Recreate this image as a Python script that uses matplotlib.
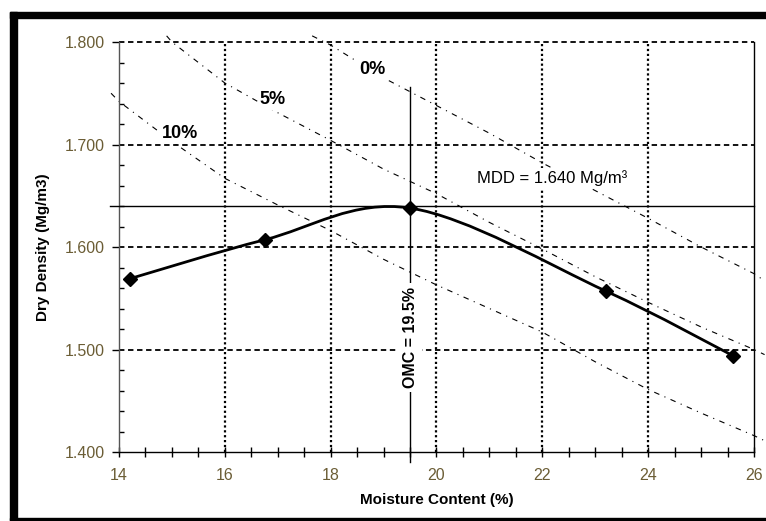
import matplotlib
matplotlib.use('Agg')
import matplotlib.pyplot as plt
from matplotlib.path import Path
from matplotlib.patches import PathPatch, Rectangle
from matplotlib.ticker import FormatStrFormatter
import numpy as np

plt.rcParams['font.family'] = ['Liberation Sans', 'DejaVu Sans']

# compaction test points
moisture = [14.2, 16.75, 19.5, 23.2, 25.6]
dry_density = [1.569, 1.607, 1.638, 1.557, 1.494]

# air voids lines
av0_w = [17.65, 18, 19, 20, 21, 22, 23, 24, 25, 26, 26.2]
av0_d = [1.806, 1.797, 1.765, 1.738, 1.711, 1.682, 1.655, 1.628, 1.600, 1.574, 1.567]
av5_w = [14.9, 15, 16, 17, 18, 19, 20, 21, 22, 23, 24, 25, 26, 26.2]
av5_d = [1.806, 1.800, 1.760, 1.731, 1.704, 1.676, 1.652, 1.624, 1.598, 1.571, 1.546, 1.522, 1.500, 1.495]
av10_w = [13.85, 14, 15, 16, 17, 18, 19, 20, 21, 22, 23, 24, 25, 26, 26.2]
av10_d = [1.750, 1.742, 1.703, 1.667, 1.641, 1.616, 1.588, 1.563, 1.540, 1.517, 1.488, 1.461, 1.438, 1.416, 1.411]

mdd = 1.640
omc = 19.5

x_major = [14, 16, 18, 20, 22, 24, 26]
y_major = [1.4, 1.5, 1.6, 1.7, 1.8]


def smooth_path(x, y):
    # excel-like smoothed line (catmull-rom -> bezier)
    pts = np.column_stack([x, y])
    n = len(pts)
    verts = [pts[0]]
    codes = [Path.MOVETO]
    for i in range(n - 1):
        p0 = pts[max(i - 1, 0)]
        p1 = pts[i]
        p2 = pts[i + 1]
        p3 = pts[min(i + 2, n - 1)]
        verts += [p1 + (p2 - p0) / 6, p2 - (p3 - p1) / 6, p2]
        codes += [Path.CURVE4] * 3
    return Path(verts, codes)


W, H = 766, 521
fig = plt.figure(figsize=(W / 100, H / 100), dpi=100)
ax = fig.add_axes([119 / W, 1 - 452 / H, 635 / W, 410 / H])

# outer frame
fig.add_artist(Rectangle((10 / W, 1 - 18 / H), 756 / W, 6 / H, transform=fig.transFigure, color='black'))
fig.add_artist(Rectangle((10 / W, 0), 7 / W, 509 / H, transform=fig.transFigure, color='black'))
fig.add_artist(Rectangle((10 / W, 1.5 / H), 756 / W, 2 / H, transform=fig.transFigure, color='black'))

ax.set_xlim(14, 26)
ax.set_ylim(1.4, 1.8)

# grid
for xv in x_major[1:-1]:
    ax.axvline(xv, color='black', lw=1.6, linestyle=(0, (1, 1.2)), zorder=1)
for yv in y_major[1:]:
    ax.axhline(yv, color='black', lw=1.3, linestyle=(0, (3, 2)), zorder=1, clip_on=False)

# air voids lines
for w, d in [(av0_w, av0_d), (av5_w, av5_d), (av10_w, av10_d)]:
    ax.plot(w, d, color='black', lw=0.8, linestyle=(0, (5, 5, 1, 5)), clip_on=False, zorder=2)

# MDD / OMC lines
ax.plot([13.83, 26], [mdd, mdd], color='black', lw=1, clip_on=False, zorder=3)
ax.plot([omc, omc], [1.756, 1.390], color='black', lw=1, clip_on=False, zorder=3)

# compaction curve
ax.add_patch(PathPatch(smooth_path(moisture, dry_density), fill=False, edgecolor='black', lw=2, zorder=4))
ax.plot(moisture, dry_density, linestyle='none', marker='D', color='black', markersize=7, zorder=5)

box = dict(facecolor='white', edgecolor='none', pad=1.5)
ax.text(18.78, 1.773, '0%', fontsize=13, fontweight='bold', ha='center', va='center', bbox=box, zorder=6)
ax.text(16.91, 1.744, '5%', fontsize=13, fontweight='bold', ha='center', va='center', bbox=box, zorder=6)
ax.text(15.15, 1.711, '10%', fontsize=13, fontweight='bold', ha='center', va='center', bbox=box, zorder=6)
ax.text(22.18, 1.6675, 'MDD = 1.640 Mg/m³', fontsize=12, ha='center', va='center', bbox=box, zorder=6)
ax.text(omc, 1.5115, 'OMC = 19.5%', fontsize=11.5, fontweight='bold', rotation=90,
        ha='center', va='center', bbox=dict(facecolor='white', edgecolor='none', pad=3), zorder=6)

# ticks
ax.set_xticks(x_major)
ax.set_xticks(np.arange(14, 26.01, 0.5), minor=True)
ax.set_yticks(y_major)
ax.set_yticks(np.arange(1.4, 1.8001, 0.02), minor=True)
ax.yaxis.set_major_formatter(FormatStrFormatter('%.3f'))
tick_col = '#6b5d35'
ax.tick_params(axis='y', which='major', direction='out', length=5, width=1,
               labelsize=11.5, labelcolor=tick_col, pad=5)
ax.tick_params(axis='y', which='minor', direction='in', length=3.5, width=1)
ax.tick_params(axis='x', which='both', direction='inout', length=7, width=1,
               labelsize=11.5, labelcolor=tick_col, pad=8)

ax.spines['top'].set_visible(False)
ax.spines['left'].set_color('#555555')
for s in ['bottom', 'right']:
    ax.spines[s].set_color('black')
for s in ax.spines.values():
    s.set_linewidth(1)

ax.set_xlabel('Moisture Content (%)', fontsize=11, fontweight='bold')
ax.set_ylabel('Dry Density (Mg/m3)', fontsize=11, fontweight='bold')
ax.xaxis.set_label_coords(0.5, -0.10)
ax.yaxis.set_label_coords(-0.108, 0.5)

fig.savefig('out.png', dpi=100)
